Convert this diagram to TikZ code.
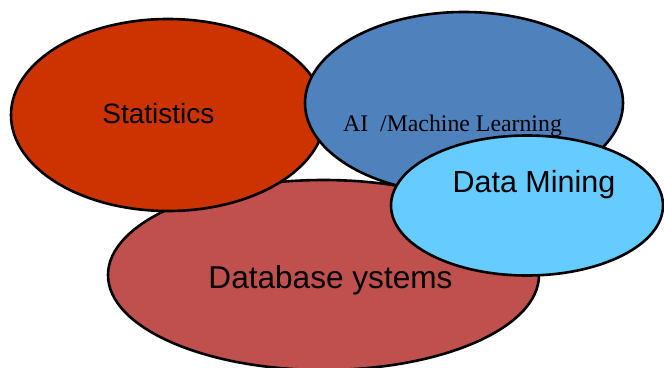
\documentclass[tikz,border=0pt]{standalone}
\usepackage{fontspec}
\setmainfont{Liberation Sans}
\newfontfamily\timesfont{Liberation Serif}
\usetikzlibrary{shapes.geometric}
\definecolor{statcol}{HTML}{CC3300}
\definecolor{aicol}{HTML}{4F81BD}
\definecolor{dbcol}{HTML}{C0504D}
\definecolor{dmcol}{HTML}{66CCFF}
\tikzset{
  blob/.style={ellipse, draw=black, line width=2.6pt, inner sep=0pt},
  lbl/.style={anchor=base, inner sep=0pt, text=black}
}
\begin{document}
\begin{tikzpicture}[x=1pt,y=-1pt]
\useasboundingbox (0,0) rectangle (664,367);
\clip (0,0) rectangle (664,367);
\node[blob, fill=dbcol, minimum width=431pt, minimum height=190pt] (db) at (323.5,275) {};
\node[blob, fill=statcol, minimum width=314pt, minimum height=192pt] (stat) at (168,115) {};
\node[blob, fill=aicol, minimum width=318pt, minimum height=182pt] (ai) at (464,103) {};
\node[blob, fill=dmcol, minimum width=272pt, minimum height=140pt] (dm) at (527,205.5) {};
\node[lbl, font=\fontsize{28}{30}\selectfont] (statt) at (158.4,123.3) {Statistics};
\node[lbl, font=\fontsize{31.6}{33}\selectfont] (dbt) at (330.5,288) {Database ystems};
\node[lbl, font=\fontsize{30.5}{32}\selectfont] (dmt) at (534,192.7) {Data Mining};
\node[lbl, font=\timesfont\fontsize{23.8}{25}\selectfont] (ait) at (452.5,131.7) {AI\ \ /Machine Learning};
\end{tikzpicture}
\end{document}
